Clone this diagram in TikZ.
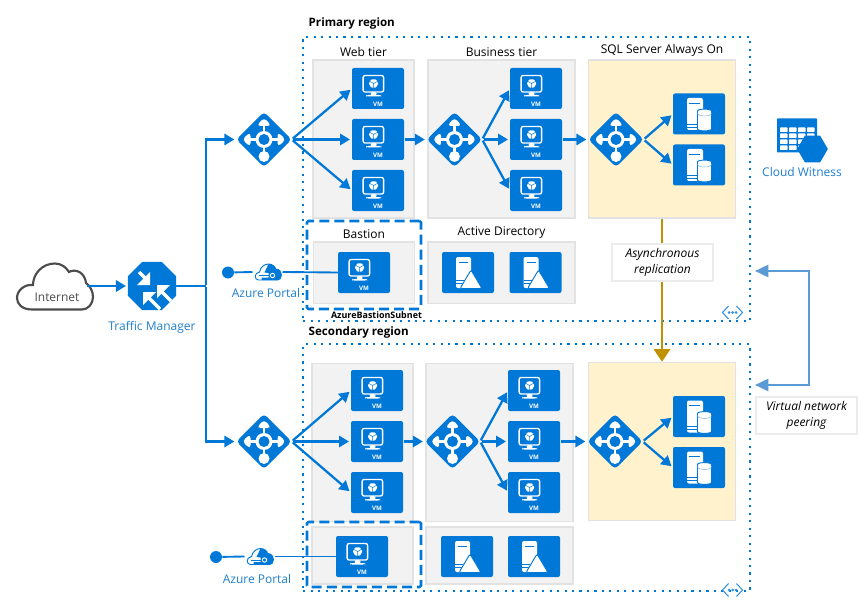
\documentclass[tikz,border=0pt]{standalone}
\usepackage{fontspec}
\setmainfont{Open Sans}
\usepackage{xcolor}
\usetikzlibrary{arrows.meta, positioning, shapes.geometric}

\definecolor{azure}{HTML}{0078D7}
\definecolor{azuretext}{HTML}{1E7FCF}
\definecolor{peerblue}{HTML}{5B9BD5}
\definecolor{goldline}{HTML}{BF9000}
\definecolor{tiergrey}{HTML}{F2F2F2}
\definecolor{tierline}{HTML}{E2E2E2}
\definecolor{captionline}{HTML}{EBEBEB}
\definecolor{sqlfill}{HTML}{FFF2CC}

% icons drawn inside the nodes
\newcommand{\centred}[1]{\begin{scope}[shift={(path picture bounding box.center)}]#1\end{scope}}
\newcommand{\lbglyph}{\centred{
        \draw[white, line width=1.6pt] (-16,0) -- (16,0) (0,-16) -- (0,17);
        \fill[white] (0,-22) -- (7.5,-13.5) -- (-7.5,-13.5) -- cycle;
        \fill[white] (-22,0) -- (-13.5,-7.5) -- (-13.5,7.5) -- cycle;
        \fill[white] (22,0) -- (13.5,-7.5) -- (13.5,7.5) -- cycle;
        \fill[white] (0,0) circle (8.5);
        \fill[azure] (0,0) circle (5.5);
        \fill[white] (0,17) circle (5.5);
    }}
\newcommand{\vmglyph}{\centred{
        \draw[white, line width=1pt] (-10,-13) rectangle (10.5,3.5);
        \fill[white] (0.5,-10) -- (5,-7.5) -- (5,-2.5) -- (0.5,0) -- (-4,-2.5) -- (-4,-7.5) -- cycle;
        \draw[azure, line width=0.35pt] (0.5,-5) -- (0.5,0) (0.5,-5) -- (5,-7.5) (0.5,-5) -- (-4,-7.5);
        \fill[white] (-2.5,3.5) rectangle (3.5,7);
        \fill[white] (-7,6.5) rectangle (8,8);
    }}
\newcommand{\dbglyph}{\centred{
        \fill[white] (-12,-16) rectangle (4,16);
        \draw[azure, line width=0.7pt] (-10,-11) -- (1,-11) (-12,10) -- (-2,10) (-12,13) -- (-2,13);
        \draw[azure, fill=white, line width=0.7pt] (-1.5,-1) -- (-1.5,13) .. controls (-1.5,17.5) and (12.5,17.5) .. (12.5,13) -- (12.5,-1) .. controls (12.5,-5.5) and (-1.5,-5.5) .. (-1.5,-1) -- cycle;
        \draw[azure!50, line width=0.4pt] (-1.5,-1) .. controls (-1.5,3) and (12.5,3) .. (12.5,-1);
    }}
\newcommand{\adglyph}{\centred{
        \fill[white] (-12,-15.5) rectangle (3,15.5);
        \draw[azure, line width=0.7pt] (-9,-10.5) -- (0,-10.5) (-12,8) -- (-4,8) (-12,11) -- (-5,11);
        \draw[azure, fill=white, line width=0.7pt] (3,-2.5) -- (14,16) -- (-8,16) -- cycle;
    }}
\newcommand{\tmglyph}{\centred{
        \draw[white, line width=2.6pt] (-13,-14) -- (-6,-7) (19,15) -- (9,5) (8,23) -- (-3,12);
        \fill[white] (-2,-1) -- (-15,-1) -- (-2,-14) -- cycle;
        \fill[white] (5,-1) -- (18,-1) -- (5,12) -- cycle;
        \fill[white] (-9,6) -- (4,6) -- (-9,19) -- cycle;
    }}
\newcommand{\tableglyph}{\centred{
        \foreach \col in {-17,-8,1,10} {
                \foreach \row in {-8,-2,4,10} {
                        \fill[white] (\col,\row) rectangle ++(7.5,4.5);
                    }
            }
    }}
\newcommand{\portalglyph}{\centred{
        \draw[azure, fill=white, line width=0.7pt] (-9,8) .. controls (-13,8) and (-14,1) .. (-8,0) .. controls (-7,-5) and (-3,-8) .. (1,-8) .. controls (5,-8) and (8,-5) .. (8,-3) .. controls (12,-3) and (14,0) .. (14,3) .. controls (14,6) and (12,8) .. (10,8) -- cycle;
        \fill[azure] (1,-8) .. controls (5,-8) and (8,-5) .. (8,-3) .. controls (12,-3) and (14,0) .. (14,3) .. controls (14,6) and (12,8) .. (10,8) -- (-6,8) -- (-6,5.5) -- (1,5.5) -- (1,1) -- (-3,0.5) -- cycle;
        \draw[azure, line width=0.7pt] (-9,3.5) -- (3,3.5);
        \draw[white, fill=azure, line width=0.7pt] (5,3.5) circle (2.2);
    }}
\newcommand{\vnetglyph}{\centred{
        \draw[azure!80, line width=0.8pt] (-4,-6.5) -- (-10,0) -- (-4,6.5) (4,-6.5) -- (10,0) -- (4,6.5);
        \fill[azure!80] (-3.5,0) circle (1.5) (0,0) circle (1.5) (3.5,0) circle (1.5);
    }}
\newcommand{\vmtext}{\raisebox{-13.5pt}[0pt][0pt]{VM}}

\begin{document}
\begin{tikzpicture}[
        x=0.75pt, y=-0.75pt,
        font=\fontsize{9}{11.5}\selectfont,
        tile/.style={rectangle, fill=azure, rounded corners=1.5pt, inner sep=0pt, outer sep=0pt, minimum width=39pt, minimum height=30.75pt},
        vm/.style={tile, text=white, font=\fontsize{4.6}{5}\selectfont\bfseries, path picture={\vmglyph}},
        db/.style={tile, path picture={\dbglyph}},
        ad/.style={tile, path picture={\adglyph}},
        lb/.style={diamond, fill=azure, rounded corners=3pt, inner sep=0pt, outer sep=0pt, minimum width=41.5pt, minimum height=41.5pt, path picture={\lbglyph}},
        region/.style={rectangle, draw=azure, line width=1.6pt, dash pattern=on 1.6pt off 4pt, inner sep=0pt},
        tier/.style={rectangle, fill=tiergrey, draw=tierline, line width=1pt, inner sep=0pt, minimum height=118.5pt},
        sqltier/.style={tier, fill=sqlfill, draw=tierline, minimum width=110.25pt},
        subnet/.style={rectangle, draw=azure, line width=1.9pt, dash pattern=on 7.5pt off 3.8pt, rounded corners=1pt, inner sep=0pt},
        caption/.style={rectangle, fill=white, draw=captionline, line width=0.8pt, font=\fontsize{9}{11.5}\selectfont\itshape, align=center, inner sep=0pt},
        regionlabel/.style={anchor=west, font=\fontsize{8.7}{11.5}\selectfont\bfseries},
        bluetext/.style={text=azuretext},
        portal/.style={rectangle, inner sep=0pt, outer sep=0pt, minimum width=22.5pt, minimum height=15pt, path picture={\portalglyph}},
        portaldot/.style={circle, fill=azure, inner sep=0pt, minimum size=9pt},
        vnet/.style={rectangle, inner sep=0pt, minimum width=17pt, minimum height=11pt, path picture={\vnetglyph}},
        flow/.style={draw=azure, line width=1.7pt, shorten >=1.5pt, shorten <=1pt, -{Triangle[length=7.5pt, width=8.5pt]}},
        link/.style={draw=azure, line width=1.4pt}
    ]
    \useasboundingbox (0,0) rectangle (865,610);

    % Regions
    \node[region, minimum width=335pt, minimum height=213pt] (primary) at (526.5,179) {};
    \node[region, minimum width=335pt, minimum height=185pt] (secondary) at (526.5,467.5) {};
    \node[regionlabel] (primary_label) at (304,23) {Primary region};
    \node[regionlabel] (secondary_label) at (304,332) {Secondary region};

    % Primary tiers
    \node[tier, minimum width=75.75pt] (web1) at (363.5,139) {};
    \node[tier, minimum width=110.25pt] (bus1) at (501.5,139) {};
    \node[sqltier] (sql1) at (662,139) {};
    \node[above=-1.5pt of web1] (web1_label) {Web tier};
    \node[above=-1.5pt of bus1] (bus1_label) {Business tier};
    \node[above=-1.5pt of sql1] (sql1_label) {SQL Server Always On};

    \node[tier, minimum width=75.75pt, minimum height=46pt] (bastion1) at (364,272.5) {};
    \node[tier, minimum width=110.25pt, minimum height=46pt] (ad1) at (501.5,272.5) {};
    \node[above=-1.5pt of bastion1] (bastion1_label) {Bastion};
    \node[above=-1.5pt of ad1] (ad1_label) {Active Directory};
    \node[subnet, minimum width=85.5pt, minimum height=66pt] (subnet1) at (364,265) {};
    \node[font=\fontsize{6.7}{8}\selectfont\bfseries] (subnet1_label) at (376.5,315) {AzureBastionSubnet};

    % Secondary tiers
    \node[tier, minimum width=75.75pt] (web2) at (362.5,442.5) {};
    \node[tier, minimum width=110.25pt] (bus2) at (499.5,442.5) {};
    \node[sqltier] (sql2) at (662,441.5) {};
    \node[tier, minimum width=75.75pt, minimum height=42.75pt] (bastion2) at (362.5,555.5) {};
    \node[tier, minimum width=110.25pt, minimum height=42.75pt] (ad2) at (499.5,555.5) {};
    \node[subnet, minimum width=85.5pt, minimum height=48.75pt] (subnet2) at (364,554.5) {};

    % Primary icons
    \node[lb] (lb_web1) at (264,139.5) {};
    \node[vm] (web1_vm1) at (378,88.5) {\vmtext};
    \node[vm, below=7.5pt of web1_vm1] (web1_vm2) {\vmtext};
    \node[vm, below=7.5pt of web1_vm2] (web1_vm3) {\vmtext};
    \node[lb] (lb_bus1) at (454.5,139.5) {};
    \node[vm] (bus1_vm1) at (536,88.5) {\vmtext};
    \node[vm, below=7.5pt of bus1_vm1] (bus1_vm2) {\vmtext};
    \node[vm, below=7.5pt of bus1_vm2] (bus1_vm3) {\vmtext};
    \node[lb] (lb_sql1) at (616,139.5) {};
    \node[db] (sql1_db1) at (699,114) {};
    \node[db, below=7.5pt of sql1_db1] (sql1_db2) {};
    \node[vm] (bastion1_vm) at (364,272.5) {\vmtext};
    \node[ad] (ad1_srv1) at (468,272.5) {};
    \node[ad] (ad1_srv2) at (535.5,272.5) {};

    % Secondary icons
    \node[lb] (lb_web2) at (264,441.5) {};
    \node[vm] (web2_vm1) at (377,390.5) {\vmtext};
    \node[vm, below=7.5pt of web2_vm1] (web2_vm2) {\vmtext};
    \node[vm, below=7.5pt of web2_vm2] (web2_vm3) {\vmtext};
    \node[lb] (lb_bus2) at (452.5,441.5) {};
    \node[vm] (bus2_vm1) at (534,390.5) {\vmtext};
    \node[vm, below=7.5pt of bus2_vm1] (bus2_vm2) {\vmtext};
    \node[vm, below=7.5pt of bus2_vm2] (bus2_vm3) {\vmtext};
    \node[lb] (lb_sql2) at (615,441.5) {};
    \node[db] (sql2_db1) at (699,416.5) {};
    \node[db, below=7.5pt of sql2_db1] (sql2_db2) {};
    \node[vm] (bastion2_vm) at (362,556.5) {\vmtext};
    \node[ad] (ad2_srv1) at (467,556.5) {};
    \node[ad] (ad2_srv2) at (534,556.5) {};

    % Left side
    \draw[line width=1.6pt, draw=black!70] (32,309.5) .. controls (22,309.5) and (17,304) .. (17,298) .. controls (17,290) and (25,284) .. (33,285) .. controls (33,274) and (42,263.5) .. (55,263.5) .. controls (61,263.5) and (66,267) .. (69,272) .. controls (76,268) and (85,273) .. (86,283) .. controls (90,286) and (93,291) .. (93,297) .. controls (93,304) and (88,309.5) .. (82,309.5) -- cycle;
    \node[text=black!70] (internet) at (57,297) {Internet};
    \coordinate (internet_out) at (86,286);
    \node[regular polygon, regular polygon sides=8, fill=azure, inner sep=0pt, outer sep=0pt, minimum size=39pt, path picture={\tmglyph}] (tm) at (152,286) {};
    \node[bluetext] (tm_label) at (152,327) {Traffic Manager};
    \coordinate (tm_split) at (206,286);

    \node[portaldot] (portal1_dot) at (228,272.5) {};
    \node[portal] (portal1) at (267.5,272) {};
    \node[bluetext] (portal1_label) at (266,293) {Azure Portal};
    \node[portaldot] (portal2_dot) at (216,557) {};
    \node[portal] (portal2) at (259.5,556.5) {};
    \node[bluetext] (portal2_label) at (257,579) {Azure Portal};

    % Right side
    \node[rectangle, fill=azure, rounded corners=0.5pt, inner sep=0pt, minimum width=30pt, minimum height=25.5pt, path picture={\tableglyph}] (witness_table) at (797,135.5) {};
    \node[regular polygon, regular polygon sides=6, fill=azure, inner sep=0pt, minimum size=23pt] (witness_hex) at (812.5,149) {};
    \node[bluetext] (witness_label) at (802,172) {Cloud Witness};
    \node[vnet] (vnet1) at (732.5,312.5) {};
    \node[vnet] (vnet2) at (732.5,590) {};

    % Connectors
    \draw[flow] (internet_out) -- (tm);
    \draw[link, line width=1.7pt] (tm) -- (tm_split);
    \draw[flow] (tm_split) |- (lb_web1);
    \draw[flow] (tm_split) |- (lb_web2);

    \draw[flow] (lb_web1.east) -- (web1_vm1.west);
    \draw[flow] (lb_web1.east) -- (web1_vm2.west);
    \draw[flow] (lb_web1.east) -- (web1_vm3.west);
    \draw[flow] (web1_vm2.east) -- (lb_bus1.west);
    \draw[flow] (lb_bus1.east) -- (bus1_vm1.west);
    \draw[flow] (lb_bus1.east) -- (bus1_vm2.west);
    \draw[flow] (lb_bus1.east) -- (bus1_vm3.west);
    \draw[flow] (bus1_vm2.east) -- (lb_sql1.west);
    \draw[flow] (lb_sql1.east) -- (sql1_db1.west);
    \draw[flow] (lb_sql1.east) -- (sql1_db2.west);

    \draw[flow] (lb_web2.east) -- (web2_vm1.west);
    \draw[flow] (lb_web2.east) -- (web2_vm2.west);
    \draw[flow] (lb_web2.east) -- (web2_vm3.west);
    \draw[flow] (web2_vm2.east) -- (lb_bus2.west);
    \draw[flow] (lb_bus2.east) -- (bus2_vm1.west);
    \draw[flow] (lb_bus2.east) -- (bus2_vm2.west);
    \draw[flow] (lb_bus2.east) -- (bus2_vm3.west);
    \draw[flow] (bus2_vm2.east) -- (lb_sql2.west);
    \draw[flow] (lb_sql2.east) -- (sql2_db1.west);
    \draw[flow] (lb_sql2.east) -- (sql2_db2.west);

    \draw[link] (portal1_dot) -- (portal1.west);
    \draw[link] (portal1.east) -- (bastion1_vm.west);
    \draw[link] (portal2_dot) -- (portal2.west);
    \draw[link] (portal2.east) -- (bastion2_vm.west);

    % Replication and peering
    \draw[draw=goldline, line width=2.2pt, -{Triangle[length=9.5pt, width=12pt]}] (sql1.south) -- (sql2.north);
    \node[caption, minimum width=75.75pt, minimum height=27.75pt] (replication) at (662.5,262.5) {Asynchronous\\replication};

    \coordinate (peer_primary) at (755,271);
    \coordinate (peer_secondary) at (755,385);
    \coordinate (peer_corner1) at (809,271);
    \coordinate (peer_corner2) at (809,385);
    \draw[draw=peerblue, line width=1.9pt, {Triangle[length=10pt, width=9pt]}-{Triangle[length=10pt, width=9pt]}] (peer_primary) -- (peer_corner1) -- (peer_corner2) -- (peer_secondary);
    \node[caption, minimum width=75.75pt, minimum height=27.75pt] (peering) at (806.5,415.5) {Virtual network\\peering};
\end{tikzpicture}
\end{document}
